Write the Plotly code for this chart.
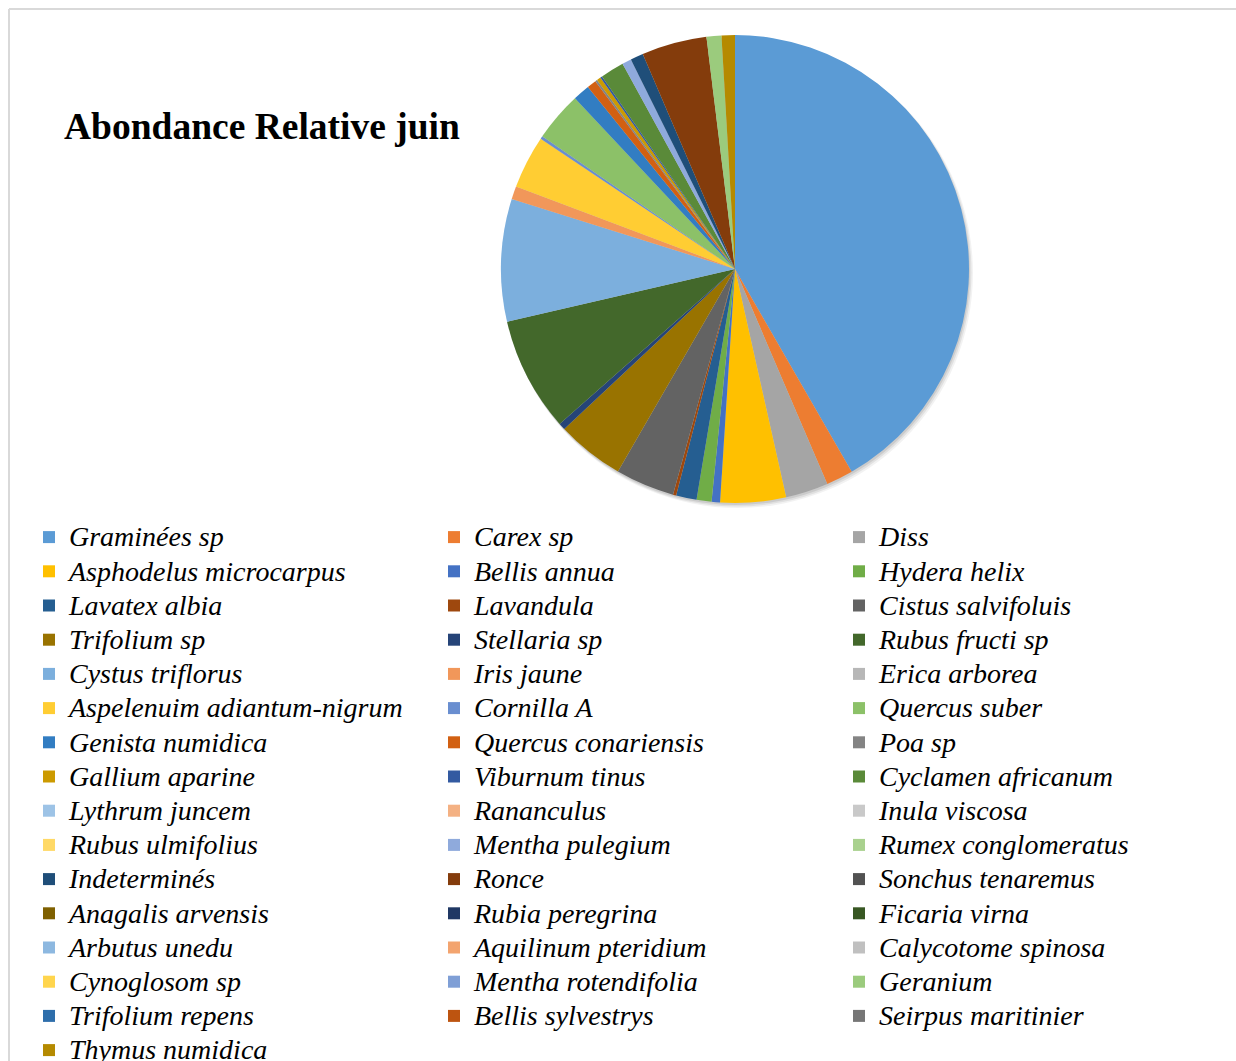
import plotly.graph_objects as go

# Relative abundance (%) of each species recorded in June
species = [
    "Graminées sp", "Carex sp", "Diss",
    "Asphodelus microcarpus", "Bellis annua", "Hydera helix",
    "Lavatex albia", "Lavandula", "Cistus salvifoluis",
    "Trifolium sp", "Stellaria sp", "Rubus fructi sp",
    "Cystus triflorus", "Iris jaune", "Erica arborea",
    "Aspelenuim adiantum-nigrum", "Cornilla A", "Quercus suber",
    "Genista numidica", "Quercus conariensis", "Poa sp",
    "Gallium aparine", "Viburnum tinus", "Cyclamen africanum",
    "Lythrum juncem", "Rananculus", "Inula viscosa",
    "Rubus ulmifolius", "Mentha pulegium", "Rumex conglomeratus",
    "Indeterminés", "Ronce", "Sonchus tenaremus",
    "Anagalis arvensis", "Rubia peregrina", "Ficaria virna",
    "Arbutus unedu", "Aquilinum pteridium", "Calycotome spinosa",
    "Cynoglosom sp", "Mentha rotendifolia", "Geranium",
    "Trifolium repens", "Bellis sylvestrys", "Seirpus maritinier",
    "Thymus numidica",
]

abundance = [
    41.70, 1.86, 2.94,
    4.53, 0.58, 1.03,
    1.42, 0.22, 4.07,
    4.68, 0.47, 7.89,
    8.46, 0.90, 0.00,
    3.67, 0.19, 3.42,
    1.17, 0.64, 0.14,
    0.28, 0.14, 1.64,
    0.00, 0.00, 0.00,
    0.00, 0.64, 0.00,
    0.89, 4.50, 0.00,
    0.00, 0.00, 0.00,
    0.00, 0.00, 0.00,
    0.00, 0.00, 1.03,
    0.00, 0.00, 0.00,
    0.92,
]

slice_colors = [
    "#5B9BD5", "#ED7D31", "#A5A5A5", "#FFC000", "#4472C4", "#70AD47",
    "#255E91", "#9E480E", "#636363", "#997300", "#264478", "#43682B",
    "#7CAFDD", "#F1975A", "#B7B7B7", "#FFCD33", "#698ED0", "#8CC168",
    "#327DC2", "#D26012", "#848484", "#CC9A00", "#335AA1", "#5A8A39",
    "#9DC3E6", "#F4B183", "#C9C9C9", "#FFD966", "#8FAADC", "#A9D18E",
    "#1F4E79", "#843C0C", "#525252", "#7F6000", "#203864", "#385723",
    "#8DB8E0", "#F3A46F", "#C0C0C0", "#FFD54D", "#7F9FD6", "#9BCB7D",
    "#2E6EAB", "#BD5410", "#767676", "#B58A00",
]

W, H = 1236, 1061
cx, cy, r = 735, 269, 234


def pie_domain(dx=0.0, dy=0.0, grow=0.0):
    rr = r + grow
    return dict(x=[(cx + dx - rr) / W, (cx + dx + rr) / W],
                y=[1 - (cy + dy + rr) / H, 1 - (cy + dy - rr) / H])


fig = go.Figure()

# soft drop shadow under the pie (a few faint offset discs)
for dx, dy, grow, alpha in [(3, 4, 1, 0.05), (2, 3, 0.5, 0.07), (1, 2, 0, 0.09)]:
    fig.add_trace(go.Pie(
        values=[1], labels=["shadow"], sort=False, textinfo="none",
        marker=dict(colors=[f"rgba(0,0,0,{alpha})"], line=dict(width=0)),
        domain=pie_domain(dx, dy, grow), showlegend=False, hoverinfo="skip",
    ))

fig.add_trace(go.Pie(
    labels=[f'<span style="font-size:28px">{s}</span>' for s in species],
    values=abundance,
    text=species,
    sort=False,
    direction="clockwise",
    rotation=0,
    textinfo="none",
    hovertemplate="%{text}: %{percent}<extra></extra>",
    marker=dict(colors=slice_colors, line=dict(width=0)),
    domain=pie_domain(),
))

fig.update_layout(
    width=W, height=H,
    margin=dict(l=0, r=0, t=0, b=0, autoexpand=False),
    paper_bgcolor="white",
    plot_bgcolor="white",
    font=dict(family="Liberation Serif", color="black"),
    legend=dict(
        orientation="h",
        x=29 / W, y=1 - 515 / H,
        xanchor="left", yanchor="top",
        entrywidth=360, entrywidthmode="pixels",
        maxheight=2000,
        font=dict(family="Liberation Serif", size=24, color="black", style="italic"),
        bgcolor="rgba(0,0,0,0)",
        borderwidth=0,
    ),
    annotations=[dict(
        text="<b>Abondance Relative juin</b>",
        x=62 / W, y=1 - 126 / H, xref="paper", yref="paper",
        xanchor="left", yanchor="middle", showarrow=False,
        font=dict(family="Liberation Serif", size=37.5, color="black"),
    )],
    shapes=[
        dict(type="line", xref="paper", yref="paper",
             x0=9 / W, x1=1.0, y0=1 - 9 / H, y1=1 - 9 / H,
             line=dict(color="#D9D9D9", width=2)),
        dict(type="line", xref="paper", yref="paper",
             x0=9 / W, x1=9 / W, y0=0.0, y1=1 - 9 / H,
             line=dict(color="#D9D9D9", width=2)),
    ],
)

fig.write_html("out.html")
